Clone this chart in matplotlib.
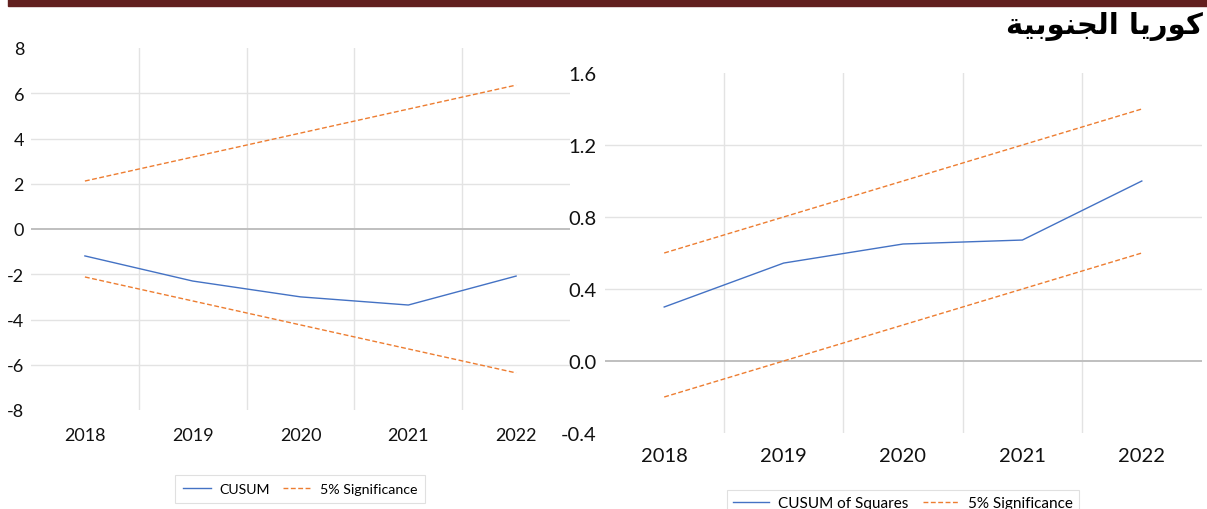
import matplotlib
matplotlib.use("Agg")
import matplotlib.pyplot as plt
from matplotlib import font_manager
from matplotlib.lines import Line2D
from matplotlib.patches import Rectangle

# chart data
years = ["2018", "2019", "2020", "2021", "2022"]
cusum = [-1.19, -2.3, -3.0, -3.36, -2.08]
cusum_upper = [2.12, 3.18, 4.24, 5.30, 6.36]
cusum_lower = [-2.12, -3.18, -4.24, -5.30, -6.36]
cusum_sq = [0.30, 0.544, 0.65, 0.672, 1.0]
sq_upper = [0.6, 0.8, 1.0, 1.2, 1.4]
sq_lower = [-0.2, 0.0, 0.2, 0.4, 0.6]
left_ticks = [-8, -6, -4, -2, 0, 2, 4, 6, 8]
right_ticks = [-0.4, 0.0, 0.4, 0.8, 1.2, 1.6]
title_text = "كوريا الجنوبية"

BLUE = "#4472C4"
ORANGE = "#ED7D31"
GRID = "#e3e3e3"
ZERO = "#bfbfbf"
DASH = (0, (3.5, 1.8))

installed = {f.name for f in font_manager.fontManager.ttflist}
FONT = "Lato" if "Lato" in installed else "DejaVu Sans"
plt.rcParams["font.family"] = [FONT, "DejaVu Sans"]

# contextual forms for the arabic letters used: isolated, final, initial, medial
FORMS = {
    "ا": ("\uFE8D", "\uFE8E", None, None),
    "ب": ("\uFE8F", "\uFE90", "\uFE91", "\uFE92"),
    "ة": ("\uFE93", "\uFE94", None, None),
    "ج": ("\uFE9D", "\uFE9E", "\uFE9F", "\uFEA0"),
    "ر": ("\uFEAD", "\uFEAE", None, None),
    "ك": ("\uFED9", "\uFEDA", "\uFEDB", "\uFEDC"),
    "ل": ("\uFEDD", "\uFEDE", "\uFEDF", "\uFEE0"),
    "ن": ("\uFEE5", "\uFEE6", "\uFEE7", "\uFEE8"),
    "و": ("\uFEED", "\uFEEE", None, None),
    "ي": ("\uFEF1", "\uFEF2", "\uFEF3", "\uFEF4"),
}


def shape_arabic(text):
    """join letters and reverse them so the string reads right to left"""
    out = []
    for i, ch in enumerate(text):
        if ch not in FORMS:
            out.append(ch)
            continue
        prev = text[i - 1] if i > 0 else ""
        nxt = text[i + 1] if i + 1 < len(text) else ""
        joins_prev = prev in FORMS and FORMS[prev][2] is not None
        joins_next = FORMS[ch][2] is not None and nxt in FORMS
        iso, fin, ini, med = FORMS[ch]
        if joins_prev and joins_next:
            out.append(med)
        elif joins_prev:
            out.append(fin)
        elif joins_next:
            out.append(ini)
        else:
            out.append(iso)
    return "".join(out[::-1])


W, H = 1207, 510
fig = plt.figure(figsize=(W / 100, H / 100), dpi=100)


def px_axes(x0, y0, x1, y1):
    """axes from pixel box (top-left origin)"""
    return fig.add_axes([x0 / W, 1 - y1 / H, (x1 - x0) / W, (y1 - y0) / H])


def draw_panel(ax, main, upper, lower, ticks, fmt, tick_size, xpad, ypad):
    x = range(len(years))
    ax.set_xlim(-0.5, len(years) - 0.5)
    ax.set_ylim(ticks[0], ticks[-1])
    # interior gridlines only
    for t in ticks[1:-1]:
        if t == 0:
            continue
        ax.axhline(t, color=GRID, lw=1, zorder=0)
    for b in range(1, len(years)):
        ax.axvline(b - 0.5, color=GRID, lw=1, zorder=0)
    ax.axhline(0, color=ZERO, lw=1.4, zorder=1)
    ax.plot(x, main, color=BLUE, lw=1.0, zorder=3)
    ax.plot(x, upper, color=ORANGE, lw=1.0, ls=DASH, zorder=3)
    ax.plot(x, lower, color=ORANGE, lw=1.0, ls=DASH, zorder=3)
    ax.set_xticks(list(x), years)
    ax.set_yticks(ticks, [fmt.format(t) for t in ticks])
    ax.tick_params(length=0, labelsize=tick_size, colors="#111111")
    ax.tick_params(axis="x", pad=xpad)
    ax.tick_params(axis="y", pad=ypad)
    for s in ax.spines.values():
        s.set_visible(False)


ax1 = px_axes(31, 49, 570, 411)
draw_panel(ax1, cusum, cusum_upper, cusum_lower, left_ticks, "{:d}", 13, 12, 5)

ax2 = px_axes(604.5, 74, 1201.5, 434)
draw_panel(ax2, cusum_sq, sq_upper, sq_lower, right_ticks, "{:.1f}", 14.5, 10, 6)

# legends
handles = [Line2D([], [], color=BLUE, lw=1.0),
           Line2D([], [], color=ORANGE, lw=1.0, ls=DASH)]
leg1 = fig.legend(handles, ["CUSUM", "5% Significance"], ncol=2,
                  loc="center", bbox_to_anchor=(300 / W, 1 - 490 / H),
                  fontsize=10.2, frameon=True, fancybox=False,
                  edgecolor="#d9d9d9", handlelength=2.0, columnspacing=0.9,
                  handletextpad=0.6, borderpad=0.55, borderaxespad=0)
leg1.get_frame().set_linewidth(0.8)

leg2 = fig.legend(handles, ["CUSUM of Squares", "5% Significance"], ncol=2,
                  loc="upper center", bbox_to_anchor=(903 / W, 1 - 491 / H),
                  fontsize=11, frameon=True, fancybox=False,
                  edgecolor="#d9d9d9", handlelength=2.3, columnspacing=1.0,
                  handletextpad=0.6, borderpad=0.4, borderaxespad=0)
leg2.get_frame().set_linewidth(0.8)

# header band and title
fig.patches.append(Rectangle((8 / W, 1 - 7 / H), 1 - 8 / W, 7 / H,
                             transform=fig.transFigure, color="#62201F"))
fig.text(1203 / W, 1 - 26 / H, shape_arabic(title_text), ha="right",
         va="center", fontsize=21, fontweight="bold", family="DejaVu Sans")

fig.savefig("out.png", dpi=100)
